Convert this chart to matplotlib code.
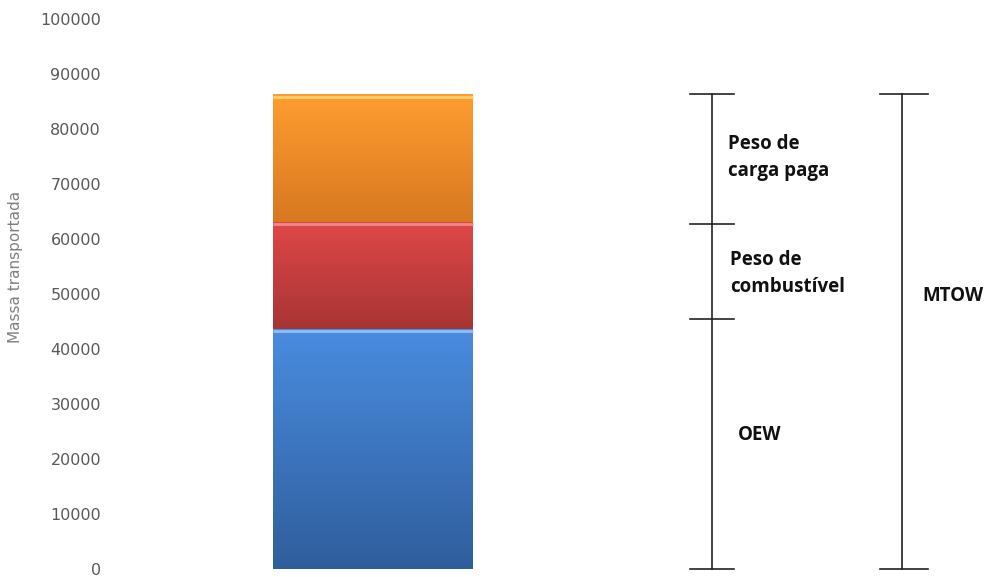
import matplotlib
matplotlib.use("Agg")
import matplotlib.pyplot as plt
import numpy as np
from matplotlib.colors import LinearSegmentedColormap

# stacked components (kg)
segments = ["OEW", "Peso de combustível", "Peso de carga paga"]
values = [43600, 19500, 23200]
top_colors = ["#4a8ce0", "#e04848", "#ff9d30"]
bottom_colors = ["#2f5e9c", "#a83434", "#d87820"]
edge_colors = ["#8fc0f5", "#f08a8a", "#ffd070"]

yticks = list(range(0, 100001, 10000))

fig = plt.figure(figsize=(9.95, 5.77), dpi=100)
ax = fig.add_axes([115 / 995, 8 / 577, 875 / 995, 550 / 577])

bar_x = 0.0
bar_w = 1.0
bottom = 0
tops = []
for i, v in enumerate(values):
    b = ax.bar(bar_x, v, width=bar_w, bottom=bottom, color="none", edgecolor="none")[0]
    cmap = LinearSegmentedColormap.from_list("g%d" % i, [bottom_colors[i], top_colors[i]])
    grad = np.linspace(0, 1, 256).reshape(-1, 1)
    im = ax.imshow(grad, extent=[bar_x - bar_w / 2, bar_x + bar_w / 2, bottom, bottom + v],
                   origin="lower", aspect="auto", cmap=cmap, zorder=2)
    im.set_clip_path(b)
    ax.plot([bar_x - bar_w / 2, bar_x + bar_w / 2], [bottom + v - 400, bottom + v - 400],
            color=edge_colors[i], lw=2, zorder=3, solid_capstyle="butt")
    bottom += v
    tops.append(bottom)

ax.set_xlim(-1.29, 3.085)
ax.set_ylim(0, 100000)
ax.set_yticks(yticks)
ax.set_yticklabels([str(t) for t in yticks], fontsize=11.5, color="#595959")
ax.tick_params(axis="y", length=0, pad=10)
ax.set_xticks([])
for s in ax.spines.values():
    s.set_visible(False)
ax.set_ylabel("Massa transportada", fontsize=11, color="#7f7f7f")
ax.yaxis.set_label_coords(-0.105, 0.55)

# brackets
lc = "#222222"
bx1 = 1.695
bx2 = 2.645
hw = 0.11
ax.plot([bx1, bx1], [0, tops[2]], color=lc, lw=1.2, clip_on=False)
for y in [0, 45500, tops[1] - 400, tops[2]]:
    ax.plot([bx1 - hw, bx1 + hw], [y, y], color=lc, lw=1.2, clip_on=False)
ax.plot([bx2, bx2], [0, tops[2]], color=lc, lw=1.2, clip_on=False)
for y in [0, tops[2]]:
    ax.plot([bx2 - 0.11, bx2 + 0.13], [y, y], color=lc, lw=1.2, clip_on=False)

tkw = dict(fontsize=13.5, fontweight="bold", color="#111111", va="center", ha="left",
           family=["Open Sans", "DejaVu Sans"], linespacing=1.45)
ax.text(1.775, 74800, "Peso de\ncarga paga", **tkw)
ax.text(1.785, 53700, "Peso de\ncombustível", **tkw)
ax.text(2.745, 49700, "MTOW", **tkw)
ax.text(1.825, 24300, "OEW", **tkw)

fig.savefig("out.png", dpi=100)
